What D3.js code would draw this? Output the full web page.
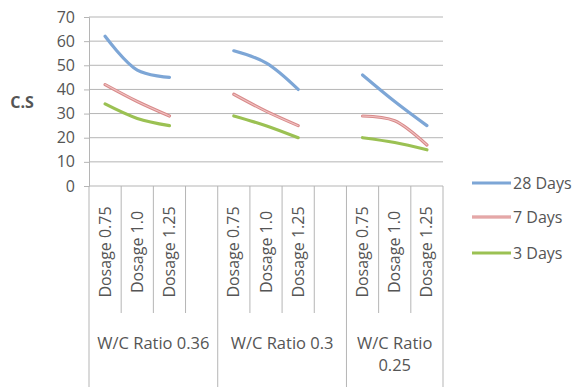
<!DOCTYPE html>
<html>
<head>
<meta charset="utf-8">
<script src="https://cdn.jsdelivr.net/npm/d3@7"></script>
<style>
  html, body { margin: 0; padding: 0; background: #fff; }
  svg { display: block; }
  text { font-family: "Open Sans", "Noto Sans", sans-serif; fill: #555; }
</style>
</head>
<body>
<svg id="chart" width="576" height="389"></svg>
<script>
// Category slots along the x axis (empty slots separate the W/C groups)
const categories = ["a1", "a2", "a3", "a4", "b1", "b2", "b3", "b4", "c1", "c2", "c3"];
const dosageLabels = ["Dosage 0.75", "Dosage 1.0", "Dosage 1.25", "",
                      "Dosage 0.75", "Dosage 1.0", "Dosage 1.25", "",
                      "Dosage 0.75", "Dosage 1.0", "Dosage 1.25"];
const groupLabels = [["W/C Ratio 0.36"], ["W/C Ratio 0.3"], ["W/C Ratio", "0.25"]];
const groupSpans = [[0, 4], [4, 8], [8, 11]];

// Compressive strength series
const days28 = [62, 48, 45, null, 56, 51, 40, null, 46, 35, 25];
const days7  = [42, 35, 29, null, 38, 31, 25, null, 29, 27, 17];
const days3  = [34, 28, 25, null, 29, 25, 20, null, 20, 18, 15];

const seriesNames = ["28 Days", "7 Days", "3 Days"];
const yTicks = [0, 10, 20, 30, 40, 50, 60, 70];

const svg = d3.select("#chart");
const plotLeft = 89, plotRight = 443, plotTop = 17, plotBottom = 186;

const x = d3.scaleBand().domain(categories).range([plotLeft, plotRight]).paddingInner(0).paddingOuter(0);
const y = d3.scaleLinear().domain([0, 70]).range([plotBottom, plotTop]);

const gridColor = "#b5b5b5";

// Horizontal gridlines
svg.append("g").selectAll("line").data(yTicks.filter(t => t > 0)).join("line")
  .attr("x1", plotLeft).attr("x2", plotRight)
  .attr("y1", d => y(d)).attr("y2", d => y(d))
  .attr("stroke", gridColor).attr("stroke-width", 1);

// Y axis
const yAxis = svg.append("g").attr("transform", `translate(${plotLeft},0)`)
  .call(d3.axisLeft(y).tickValues(yTicks).tickSize(5).tickPadding(9));
yAxis.select(".domain").attr("stroke", gridColor);
yAxis.selectAll(".tick line").attr("stroke", gridColor);
yAxis.selectAll(".tick text").style("font-size", "16px").attr("fill", "#555")
  .style("font-family", "'Open Sans', sans-serif");

// Baseline
svg.append("line").attr("x1", plotLeft).attr("x2", plotRight)
  .attr("y1", y(0)).attr("y2", y(0)).attr("stroke", gridColor);

// Y axis title
svg.append("text").attr("x", 22).attr("y", 108)
  .attr("text-anchor", "middle")
  .style("font-size", "16px").style("font-weight", "bold").attr("fill", "#444")
  .text("C.S");

// Category separators: short within groups, long at group edges
const boundaries = d3.range(categories.length + 1);
const groupEdges = new Set([0, 4, 8, 11]);
svg.append("g").selectAll("line").data(boundaries).join("line")
  .attr("x1", i => i < categories.length ? x(categories[i]) : plotRight)
  .attr("x2", i => i < categories.length ? x(categories[i]) : plotRight)
  .attr("y1", plotBottom)
  .attr("y2", i => groupEdges.has(i) ? 387 : 313)
  .attr("stroke", gridColor).attr("stroke-width", 1);

// Rotated dosage labels
svg.append("g").selectAll("text").data(categories).join("text")
  .attr("transform", c => `translate(${x(c) + x.bandwidth() / 2 + 5.5},252) rotate(-90)`)
  .attr("text-anchor", "middle")
  .style("font-size", "16px")
  .text((c, i) => dosageLabels[i]);

// Group labels
groupSpans.forEach(([s, e], gi) => {
  const x0 = x(categories[s]);
  const x1 = e < categories.length ? x(categories[e]) : plotRight;
  const cx = (x0 + x1) / 2;
  groupLabels[gi].forEach((ln, li) => {
    svg.append("text").attr("x", cx).attr("y", 349 + li * 22)
      .attr("text-anchor", "middle").style("font-size", "16.5px").text(ln);
  });
});

// Series lines
const line = d3.line()
  .defined(d => d.v != null)
  .x(d => x(d.c) + x.bandwidth() / 2)
  .y(d => y(d.v))
  .curve(d3.curveCatmullRom.alpha(0.5));

const toPoints = arr => arr.map((v, i) => ({ c: categories[i], v }));

const styles = [
  { data: days28, stroke: "#7da6d6", inner: null },
  { data: days7,  stroke: "#d88a8a", inner: "#f1c3c3" },
  { data: days3,  stroke: "#9bc153", inner: null }
];

styles.forEach(s => {
  svg.append("path").datum(toPoints(s.data)).attr("d", line)
    .attr("fill", "none").attr("stroke", s.stroke).attr("stroke-width", 3.2)
    .attr("stroke-linecap", "round");
  if (s.inner) {
    svg.append("path").datum(toPoints(s.data)).attr("d", line)
      .attr("fill", "none").attr("stroke", s.inner).attr("stroke-width", 1.1)
      .attr("stroke-linecap", "round");
  }
});

// Legend
const legendY = [183, 217, 253];
styles.forEach((s, i) => {
  const g = svg.append("g").attr("transform", `translate(472,${legendY[i]})`);
  g.append("line").attr("x1", 0).attr("x2", 39).attr("y1", 0).attr("y2", 0)
    .attr("stroke", s.stroke).attr("stroke-width", 3.2);
  if (s.inner) {
    g.append("line").attr("x1", 0).attr("x2", 39).attr("y1", 0).attr("y2", 0)
      .attr("stroke", s.inner).attr("stroke-width", 1.1);
  }
  g.append("text").attr("x", 41).attr("y", 6)
    .style("font-size", "16px").text(seriesNames[i]);
});
</script>
</body>
</html>
